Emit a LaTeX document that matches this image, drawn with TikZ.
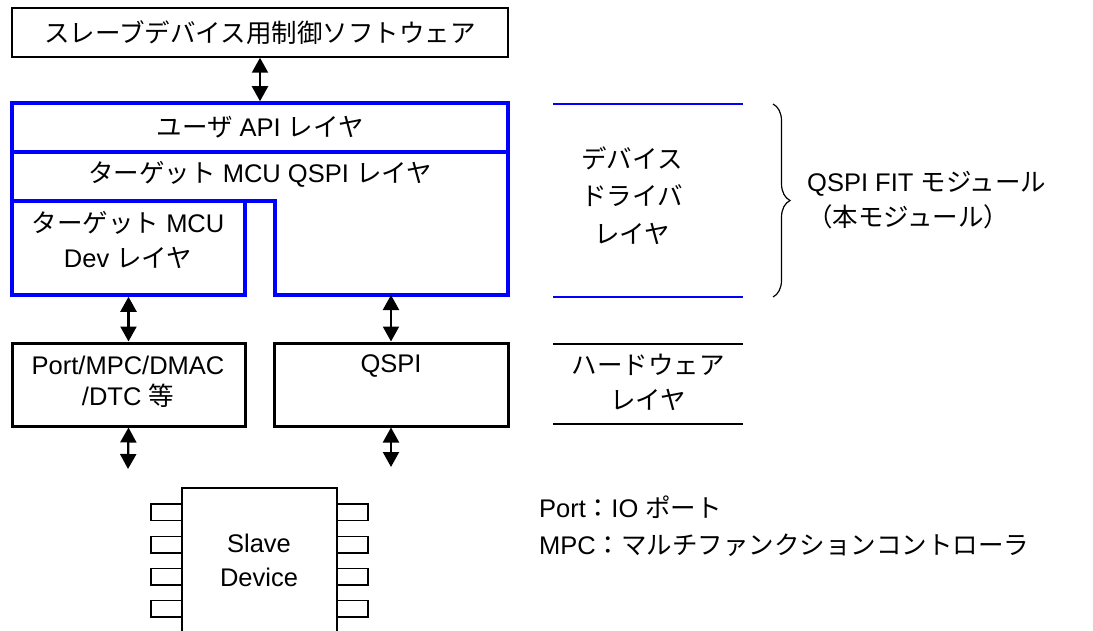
\documentclass[tikz,border=0pt]{standalone}
\usepackage{fontspec}
\setmainfont{Liberation Sans}
\newfontfamily\jp{Noto Sans CJK JP}
\newcommand\J[1]{{\jp #1}}
\usetikzlibrary{arrows.meta,decorations.pathreplacing}
\definecolor{pblue}{RGB}{0,0,255}
\begin{document}
\begin{tikzpicture}[x=1pt,y=-1pt,
  txt/.style={inner sep=0pt,align=center,font=\fontsize{25.5}{35}\selectfont},
  thinbox/.style={draw=black,line width=1.5pt,inner sep=0pt},
  bluebox/.style={draw=pblue,line width=3.5pt,inner sep=0pt},
  hwbox/.style={draw=black,line width=3pt,inner sep=0pt},
  dbl/.style={{Triangle[width=16pt,length=15pt]}-{Triangle[width=16pt,length=15pt]},line width=2.2pt},
  sidebl/.style={draw=pblue,line width=1.5pt},
  sidebk/.style={draw=black,line width=1.5pt},
  pin/.style={draw=black,line width=1.3pt}]
\useasboundingbox (0,0) rectangle (1093,631);
% top software box
\node[thinbox,minimum width=496pt,minimum height=49pt] (sw) at (260,32.5) {};
\node[txt] (swt) at (260,33) {\J{スレーブデバイス用制御ソフトウェア}};
% API layer
\node[bluebox,minimum width=496pt,minimum height=49pt] (api) at (260,127.5) {};
\node[txt] (apit) at (260,127) {\J{ユーザ} API \J{レイヤ}};
% QSPI layer polygon
\coordinate (q1) at (12,152);
\coordinate (q2) at (508,152);
\coordinate (q3) at (508,295);
\coordinate (q4) at (275,295);
\coordinate (q5) at (275,201);
\coordinate (q6) at (12,201);
\draw[pblue,line width=3.5pt,line join=miter] (q1) -- (q2) -- (q3) -- (q4) -- (q5) -- (q6) -- cycle;
\node[txt] (qlt) at (260,174) {\J{ターゲット} MCU QSPI \J{レイヤ}};
\coordinate (qb) at (391,295);
% Dev layer
\node[bluebox,minimum width=233pt,minimum height=94pt] (dev) at (128.5,248) {};
\node[txt] (devt) at (128,239.5) {\J{ターゲット} MCU\\Dev \J{レイヤ}};
% arrow top
\draw[dbl] (sw.south) -- (api.north);
% hardware boxes
\node[hwbox,minimum width=233pt,minimum height=83pt] (port) at (128.5,384.5) {};
\node[txt,font=\fontsize{25.5}{31}\selectfont] (portt) at (128,381.5) {Port/MPC/DMAC\\/DTC \J{等}};
\node[hwbox,minimum width=234pt,minimum height=83pt] (qspi) at (391,384.5) {};
\node[txt] (qspit) at (391,366) {QSPI};
\draw[dbl] (dev.south) -- (port.north);
\draw[dbl] (qb) -- (qspi.north);
\coordinate (pe) at (128,469);
\coordinate (qe) at (391,467);
\draw[dbl] (port.south) -- (pe);
\draw[dbl] (qspi.south) -- (qe);
% slave device chip
\coordinate (c1) at (182,631);
\coordinate (c2) at (182,488);
\coordinate (c3) at (337,488);
\coordinate (c4) at (337,631);
\draw[black,line width=1.5pt] (c1) -- (c2) -- (c3) -- (c4);
\foreach \yy in {504,536.5,568.5,600.5}{
  \draw[pin] (151,\yy) rectangle (182,\yy+16.5);
  \draw[pin] (337,\yy) rectangle (368,\yy+16.5);
}
\node[txt,font=\fontsize{25.5}{34}\selectfont] (slave) at (259,560) {Slave\\Device};
% right side layer lines
\coordinate (b1a) at (553,104); \coordinate (b1b) at (743,104);
\coordinate (b2a) at (553,297); \coordinate (b2b) at (743,297);
\coordinate (k1a) at (553,344); \coordinate (k1b) at (743,344);
\coordinate (k2a) at (553,424); \coordinate (k2b) at (743,424);
\draw[sidebl] (b1a) -- (b1b);
\draw[sidebl] (b2a) -- (b2b);
\draw[sidebk] (k1a) -- (k1b);
\draw[sidebk] (k2a) -- (k2b);
\node[txt,font=\fontsize{25.5}{37.5}\selectfont] (ddl) at (632,195.5) {\J{デバイス}\\\J{ドライバ}\\\J{レイヤ}};
\node[txt] (hwl) at (648,382.5) {\J{ハードウェア}\\\J{レイヤ}};
% brace
\coordinate (br1) at (773,104);
\coordinate (br2) at (773,297);
\draw[black,line width=1.2pt,decorate,decoration={brace,amplitude=17pt,aspect=0.5}] (br1) -- (br2);
\node[txt,align=left,anchor=west] (fit) at (807,200.5) {QSPI FIT \J{モジュール}\\\J{（本モジュール）}};
% notes
\node[txt,align=left,anchor=west,font=\fontsize{25.5}{37}\selectfont] (notes) at (539,526.5) {Port\J{：}IO \J{ポート}\\MPC\J{：マルチファンクションコントローラ}};
\end{tikzpicture}
\end{document}
